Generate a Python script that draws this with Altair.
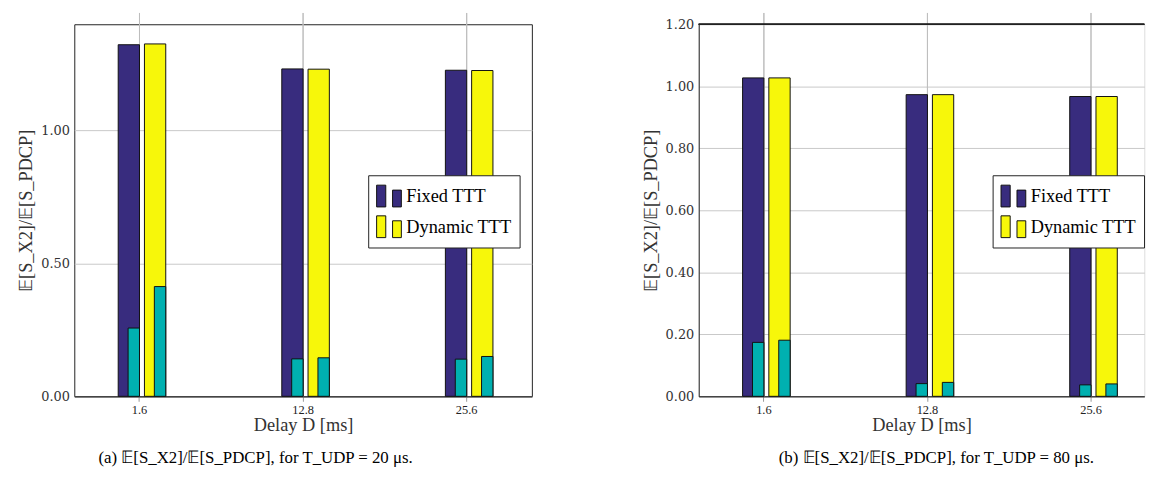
import altair as alt
import pandas as pd

delays = ["1.6", "12.8", "25.6"]
series = ["Fixed TTT", "Dynamic TTT"]

# panel (a): T_UDP = 20 us
a_fixed = [1.323, 1.232, 1.227]
a_dynamic = [1.326, 1.231, 1.226]
a_fixed_inner = [0.257, 0.141, 0.140]
a_dynamic_inner = [0.413, 0.145, 0.150]
a_ticks = [0.0, 0.5, 1.0]

# panel (b): T_UDP = 80 us
b_fixed = [1.027, 0.973, 0.967]
b_dynamic = [1.027, 0.973, 0.967]
b_fixed_inner = [0.174, 0.041, 0.037]
b_dynamic_inner = [0.181, 0.045, 0.040]
b_ticks = [0.0, 0.2, 0.4, 0.6, 0.8, 1.0, 1.2]

y_title = "𝔼[S_X2]/𝔼[S_PDCP]"
x_title = "Delay D [ms]"
a_caption = "(a) 𝔼[S_X2]/𝔼[S_PDCP], for T_UDP = 20 μs."
b_caption = "(b) 𝔼[S_X2]/𝔼[S_PDCP], for T_UDP = 80 μs."

BLUE = "#382C7E"
YELLOW = "#F7F70A"
TEAL = "#00B0B0"
SERIF = "Liberation Serif"
LEGEND_PATH = "M-1,-0.88H-0.26V0.88H-1Z M0.29,-0.48H1V0.88H0.29Z"
PLOT_H = 376


def table(fixed, dynamic, fixed_inner, dynamic_inner):
    rows = []
    for i, d in enumerate(delays):
        rows.append({"delay": d, "series": series[0], "total": fixed[i], "inner": fixed_inner[i]})
        rows.append({"delay": d, "series": series[1], "total": dynamic[i], "inner": dynamic_inner[i]})
    return pd.DataFrame(rows)


def panel(df, ymax, ticks, caption, width, pad_outer, align, framed, cap_dx):
    x_scale = alt.Scale(paddingInner=0.679, paddingOuter=pad_outer, align=align)
    x_axis = alt.Axis(title=x_title, labelAngle=0, grid=False, domain=True, domainColor="#444",
                      domainWidth=1.5, ticks=True, tickSize=5, tickColor="#999", labelPadding=2,
                      labelFont=SERIF, labelFontSize=12.5, labelColor="#222", titleFont=SERIF,
                      titleFontSize=18.5, titleFontWeight="normal", titleColor="#333", titlePadding=0)
    y_scale = alt.Scale(domain=[0, ymax], nice=False, zero=True)
    y_axis = alt.Axis(title=y_title, values=ticks, format=".2f", grid=True, gridColor="#c8c8c8",
                      ticks=False, domain=not framed, domainColor="#222", labelFont="DejaVu Serif",
                      labelFontSize=13, labelColor="#333", labelPadding=5, titleFont=SERIF,
                      titleFontSize=18.5, titleFontWeight="normal", titleColor="#333", titlePadding=5)
    x_enc = alt.X("delay:N", sort=delays, scale=x_scale, axis=x_axis)
    xo = alt.XOffset("series:N", sort=series, scale=alt.Scale(paddingInner=0, paddingOuter=0))
    base = alt.Chart(df)

    grid = base.mark_rule(color="#bdbdbd", strokeWidth=1).encode(
        x=x_enc, y=alt.value(-11.4), y2=alt.value(PLOT_H))

    bars = base.mark_bar(width=alt.RelativeBandSize(21.5 / 26.5), stroke="#111", strokeWidth=1).encode(
        x=x_enc, xOffset=xo,
        y=alt.Y("total:Q", scale=y_scale, axis=y_axis),
        color=alt.Color("series:N", sort=series,
                        scale=alt.Scale(domain=series, range=[BLUE, YELLOW]),
                        legend=alt.Legend(title=None, orient="none", legendX=297, legendY=152.6,
                                          symbolType=LEGEND_PATH, symbolSize=625,
                                          symbolStrokeColor="#111", symbolStrokeWidth=1,
                                          symbolOpacity=1, fillColor="white", strokeColor="#222",
                                          padding=8, labelFont=SERIF, labelFontSize=18.5,
                                          labelColor="black", rowPadding=5, labelOffset=4.5)),
    )

    inner = base.mark_bar(width=alt.RelativeBandSize(11.5 / 26.5), color=TEAL, stroke="#111",
                          strokeWidth=1).encode(
        x=x_enc, xOffset=xo,
        y=alt.Y("inner:Q", scale=y_scale, axis=y_axis),
    )

    layers = [grid, bars, inner]
    if not framed:
        top = base.mark_rule(color="#222", strokeWidth=1).encode(
            x=alt.value(0), x2=alt.value(width), y=alt.value(0))
        layers.append(top)

    props = dict(
        width=width, height=PLOT_H,
        title=alt.TitleParams(caption, orient="bottom", anchor="middle", frame="group", dx=cap_dx,
                              offset=16, font=SERIF, fontSize=17, fontWeight="normal", color="black"),
    )
    if framed:
        props["view"] = alt.ViewBackground(stroke="#222", strokeWidth=1)
    return alt.layer(*layers).properties(**props)


left = panel(table(a_fixed, a_dynamic, a_fixed_inner, a_dynamic_inner), 1.4, a_ticks, a_caption,
             462.4, 0.238, 0.5, True, -48)
right = panel(table(b_fixed, b_dynamic, b_fixed_inner, b_dynamic_inner), 1.2, b_ticks, b_caption,
              450.3, 0.2016, 0.59, False, 15)

chart = alt.hconcat(left, right, spacing=109).properties(
    padding={"left": 8, "top": 1, "right": 0, "bottom": 0}
).resolve_scale(color="independent").configure_view(strokeWidth=0).configure(font=SERIF)

chart.save("out.html", embed_options={"renderer": "svg", "actions": False})
